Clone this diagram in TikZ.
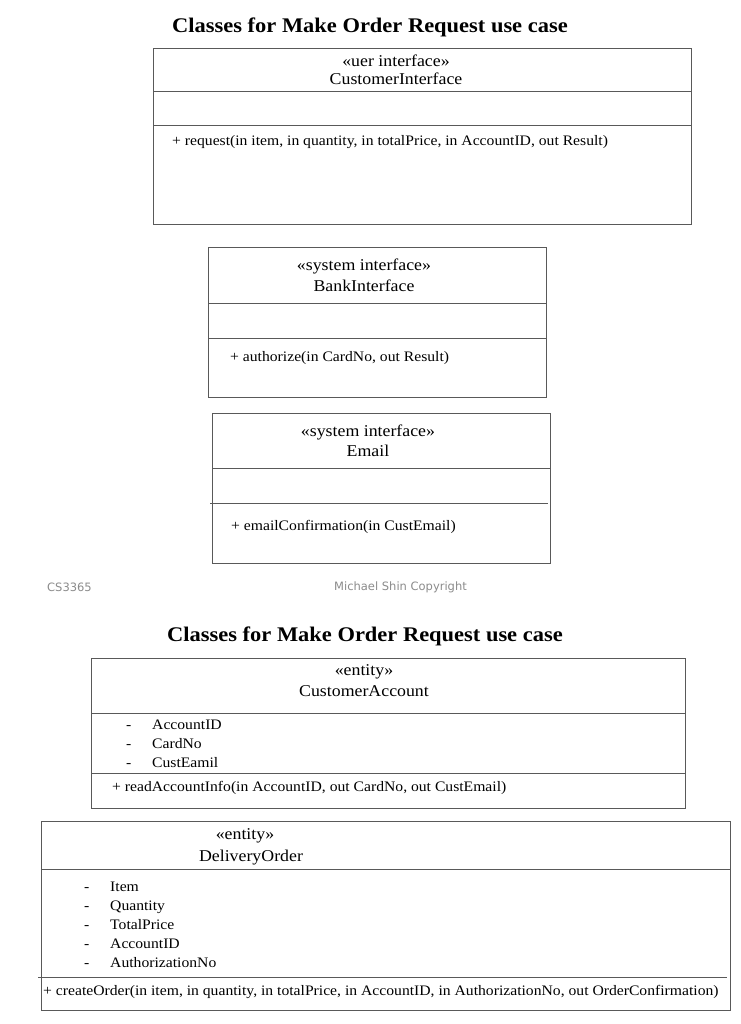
\documentclass[tikz,border=0pt]{standalone}
\usepackage{fontspec}
\setmainfont{Liberation Serif}[FakeStretch=1.08]
\newfontfamily\footfont{DejaVu Sans}
\begin{document}
\begin{tikzpicture}[x=1pt,y=-1pt,
  umlbox/.style={draw=black!65,line width=0.9pt,inner sep=0pt,outer sep=0pt,rectangle},
  divider/.style={draw=black!65,line width=0.9pt},
  titletext/.style={font=\fontsize{20.8}{24}\selectfont\bfseries,inner sep=0pt,yshift=-3pt},
  nametext/.style={font=\fontsize{16.5}{20}\selectfont,inner sep=0pt,text height=11.5pt,text depth=3.5pt,yshift=-1.5pt},
  optext/.style={font=\fontsize{14.5}{17}\selectfont,inner sep=0pt,anchor=west,text height=10pt,text depth=3pt,yshift=-2pt},
  foottext/.style={font=\footfont\fontsize{11.5}{13}\selectfont,text=black!45,inner sep=0pt,anchor=west,yshift=-2pt}]
\useasboundingbox[fill=white] (0,0) rectangle (740,1024);

% ---------- page 1 ----------
\node[titletext] (t1) at (370,24) {Classes for Make Order Request use case};

\node[umlbox,minimum width=538pt,minimum height=176pt] (ci) at (422,136) {};
\node[nametext] (ci-st) at (396,61) {«uer interface»};
\node[nametext] (ci-nm) at (396,79) {CustomerInterface};
\coordinate (ci-d1) at (0,91);
\coordinate (ci-d2) at (0,125);
\draw[divider] (ci.west |- ci-d1) -- (ci.east |- ci-d1);
\draw[divider] (ci.west |- ci-d2) -- (ci.east |- ci-d2);
\node[optext] (ci-op) at (172,140) {+ request(in item, in quantity, in totalPrice, in AccountID, out Result)};

\node[umlbox,minimum width=338pt,minimum height=150pt] (bi) at (377,322) {};
\node[nametext] (bi-st) at (364,265) {«system interface»};
\node[nametext] (bi-nm) at (364,286) {BankInterface};
\coordinate (bi-d1) at (0,303);
\coordinate (bi-d2) at (0,338);
\draw[divider] (bi.west |- bi-d1) -- (bi.east |- bi-d1);
\draw[divider] (bi.west |- bi-d2) -- (bi.east |- bi-d2);
\node[optext] (bi-op) at (230,356) {+ authorize(in CardNo, out Result)};

\node[umlbox,minimum width=338pt,minimum height=150pt] (em) at (381,488) {};
\node[nametext] (em-st) at (368,431) {«system interface»};
\node[nametext] (em-nm) at (368,451) {Email};
\coordinate (em-d1) at (0,468);
\coordinate (em-d2l) at (210,503);
\coordinate (em-d2r) at (548,503);
\draw[divider] (em.west |- em-d1) -- (em.east |- em-d1);
\draw[divider] (em-d2l) -- (em-d2r);
\node[optext] (em-op) at (231,525) {+ emailConfirmation(in CustEmail)};

\node[foottext] (f1) at (47,585) {CS3365};
\node[foottext] (f2) at (334,585) {Michael Shin Copyright};

% ---------- page 2 ----------
\node[titletext] (t2) at (365,633) {Classes for Make Order Request use case};

\node[umlbox,minimum width=594pt,minimum height=150pt] (ca) at (388,733) {};
\node[nametext] (ca-st) at (364,670) {«entity»};
\node[nametext] (ca-nm) at (364,691) {CustomerAccount};
\coordinate (ca-d1) at (0,713);
\coordinate (ca-d2) at (0,773);
\draw[divider] (ca.west |- ca-d1) -- (ca.east |- ca-d1);
\draw[divider] (ca.west |- ca-d2) -- (ca.east |- ca-d2);
\node[optext] (ca-a1d) at (126,724) {-};
\node[optext] (ca-a1) at (152,724) {AccountID};
\node[optext] (ca-a2d) at (126,743) {-};
\node[optext] (ca-a2) at (152,743) {CardNo};
\node[optext] (ca-a3d) at (126,762) {-};
\node[optext] (ca-a3) at (152,762) {CustEamil};
\node[optext] (ca-op) at (112,786) {+ readAccountInfo(in AccountID, out CardNo, out CustEmail)};

\node[umlbox,minimum width=689pt,minimum height=189pt] (do) at (385.5,915.5) {};
\node[nametext] (do-st) at (245,834) {«entity»};
\node[nametext] (do-nm) at (251,856) {DeliveryOrder};
\coordinate (do-d1) at (0,869);
\coordinate (do-d2l) at (38,977);
\coordinate (do-d2r) at (727,977);
\draw[divider] (do.west |- do-d1) -- (do.east |- do-d1);
\draw[divider] (do-d2l) -- (do-d2r);
\node[optext] (do-a1d) at (84,886) {-};
\node[optext] (do-a1) at (110,886) {Item};
\node[optext] (do-a2d) at (84,905) {-};
\node[optext] (do-a2) at (110,905) {Quantity};
\node[optext] (do-a3d) at (84,924) {-};
\node[optext] (do-a3) at (110,924) {TotalPrice};
\node[optext] (do-a4d) at (84,943) {-};
\node[optext] (do-a4) at (110,943) {AccountID};
\node[optext] (do-a5d) at (84,962) {-};
\node[optext] (do-a5) at (110,962) {AuthorizationNo};
\node[optext] (do-op) at (43,990) {+ createOrder(in item, in quantity, in totalPrice, in AccountID, in AuthorizationNo, out OrderConfirmation)};
\end{tikzpicture}
\end{document}
